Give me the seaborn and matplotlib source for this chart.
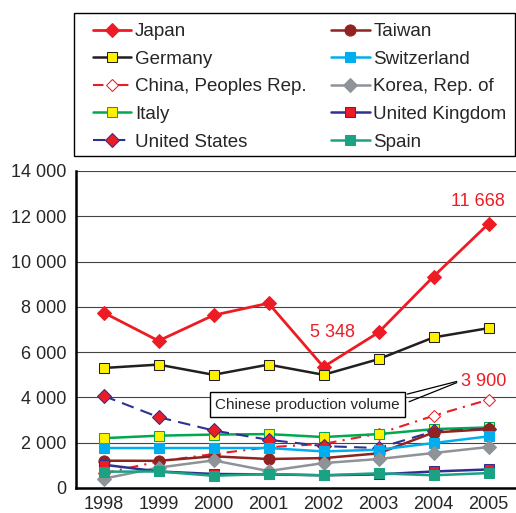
import matplotlib
matplotlib.use("Agg")
import matplotlib.pyplot as plt
import seaborn as sns
from matplotlib.patches import Rectangle
from matplotlib.ticker import FuncFormatter, MultipleLocator

years = [1998, 1999, 2000, 2001, 2002, 2003, 2004, 2005]

# legend order (column-wise): left column first, then right column
japan = [7750, 6500, 7630, 8160, 5348, 6870, 9340, 11668]
germany = [5300, 5450, 5000, 5450, 5000, 5690, 6650, 7060]
china = [650, 1170, 1500, 1800, 1950, 2400, 3190, 3900]
italy = [2200, 2310, 2360, 2380, 2250, 2380, 2600, 2675]
united_states = [4070, 3130, 2540, 2130, 1850, 1765, 2500, 2620]
taiwan = [1205, 1200, 1400, 1280, 1320, 1530, 2450, 2600]
switzerland = [1765, 1765, 1765, 1765, 1615, 1690, 1985, 2280]
korea = [410, 900, 1220, 750, 1100, 1280, 1545, 1810]
united_kingdom = [1030, 730, 620, 600, 560, 600, 730, 820]
spain = [720, 730, 540, 620, 560, 650, 560, 660]

chinese_note = "Chinese production volume"

RED = "#ed1c24"
NAVY = "#2e3192"
YELLOW = "#fff200"

series = [
    ("Japan", japan, dict(color=RED, marker="D", markersize=7, markerfacecolor=RED, markeredgecolor=RED, linestyle="-", linewidth=2)),
    ("Germany", germany, dict(color="#231f20", marker="s", markersize=7, markerfacecolor=YELLOW, markeredgecolor="#231f20", linestyle="-", linewidth=1.8)),
    ("China, Peoples Rep.", china, dict(color=RED, marker="D", markersize=6.5, markerfacecolor="white", markeredgecolor=RED, linestyle=(0, (5, 3, 1, 3)), linewidth=1.5, zorder=1.5)),
    ("Italy", italy, dict(color="#00a94f", marker="s", markersize=7, markerfacecolor=YELLOW, markeredgecolor="#00a94f", linestyle="-", linewidth=1.8)),
    ("United States", united_states, dict(color=NAVY, marker="D", markersize=7, markerfacecolor=RED, markeredgecolor=NAVY, linestyle=(0, (6, 3.5)), linewidth=1.5)),
    ("Taiwan", taiwan, dict(color="#8e2321", marker="o", markersize=8, markerfacecolor="#8e2321", markeredgecolor="#8e2321", linestyle="-", linewidth=1.8)),
    ("Switzerland", switzerland, dict(color="#00aeef", marker="s", markersize=7, markerfacecolor="#00aeef", markeredgecolor="#00aeef", linestyle="-", linewidth=1.8)),
    ("Korea, Rep. of", korea, dict(color="#8e9398", marker="D", markersize=7, markerfacecolor="#8e9398", markeredgecolor="#8e9398", linestyle="-", linewidth=1.8)),
    ("United Kingdom", united_kingdom, dict(color=NAVY, marker="s", markersize=7, markerfacecolor=RED, markeredgecolor=NAVY, linestyle="-", linewidth=1.8)),
    ("Spain", spain, dict(color="#1aa283", marker="s", markersize=7, markerfacecolor="#1aa283", markeredgecolor="#1aa283", linestyle="-", linewidth=1.8)),
]


def thousands(v, pos):
    return f"{int(v):,}".replace(",", " ")


if __name__ == "__main__":
    sns.set_style("white")
    plt.rcParams["font.family"] = ["Liberation Sans", "DejaVu Sans"]

    fig = plt.figure(figsize=(5.16, 5.13), dpi=100)
    ax = fig.add_axes([76 / 516, 25 / 513, 440 / 516, 317 / 513])

    for name, vals, kw in series:
        sns.lineplot(x=years, y=vals, ax=ax, label=name, **kw)

    ax.set_xlim(years[0] - 0.5, years[-1] + 0.5)
    ax.set_ylim(0, 14000)
    ax.yaxis.set_major_locator(MultipleLocator(2000))
    ax.yaxis.set_major_formatter(FuncFormatter(thousands))
    ax.set_xticks(years)
    ax.set_xticks([y + 0.5 for y in years[:-1]], minor=True)
    ax.tick_params(axis="x", which="major", length=0, labelsize=13, pad=6)
    ax.tick_params(axis="x", which="minor", direction="in", length=5, width=1, color="black")
    ax.tick_params(axis="y", length=0, labelsize=13, pad=7)
    ax.grid(axis="y", color="#444444", linewidth=0.8)
    ax.set_axisbelow(True)
    ax.set_xlabel("")
    ax.set_ylabel("")
    for side in ["top", "right"]:
        ax.spines[side].set_visible(False)
    for side in ["left", "bottom"]:
        ax.spines[side].set_color("black")
        ax.spines[side].set_linewidth(1.8)

    # value labels
    ax.text(2004.8, 12650, thousands(japan[-1], None), color=RED, fontsize=13, ha="center", va="center")
    ax.text(2002.17, 6850, thousands(japan[4], None), color=RED, fontsize=13, ha="center", va="center")
    ax.text(2004.5, 4700, thousands(china[-1], None), color=RED, fontsize=13, ha="left", va="center")

    # callout box for Chinese volume
    ax.text(2001.71, 3680, chinese_note, fontsize=11, ha="center", va="center",
            bbox=dict(boxstyle="square,pad=0.35", fc="white", ec="black", lw=1))
    ax.annotate("", xy=(2004.47, 4735), xytext=(2003.475, 4117),
                arrowprops=dict(arrowstyle="-", color="black", lw=0.9))
    ax.annotate("", xy=(2004.47, 4700), xytext=(2003.51, 3764),
                arrowprops=dict(arrowstyle="-", color="black", lw=0.9))

    handles, labels = ax.get_legend_handles_labels()
    if ax.get_legend() is not None:
        ax.get_legend().remove()
    fig.legend(handles, labels, ncol=2, loc="upper left",
               bbox_to_anchor=(93 / 516, 1 - 23 / 513),
               bbox_transform=fig.transFigure,
               fontsize=13.5, handlelength=2.05, handletextpad=0.2,
               labelspacing=0.56, columnspacing=1.3, borderaxespad=0, borderpad=0,
               frameon=False)
    # legend frame drawn on its own so the padding can differ per side
    fig.patches.append(Rectangle((74 / 516, 1 - 156 / 513), 441 / 516, 143 / 513,
                                 transform=fig.transFigure, fill=False,
                                 edgecolor="black", linewidth=1))

    fig.savefig("out.png", dpi=100)
